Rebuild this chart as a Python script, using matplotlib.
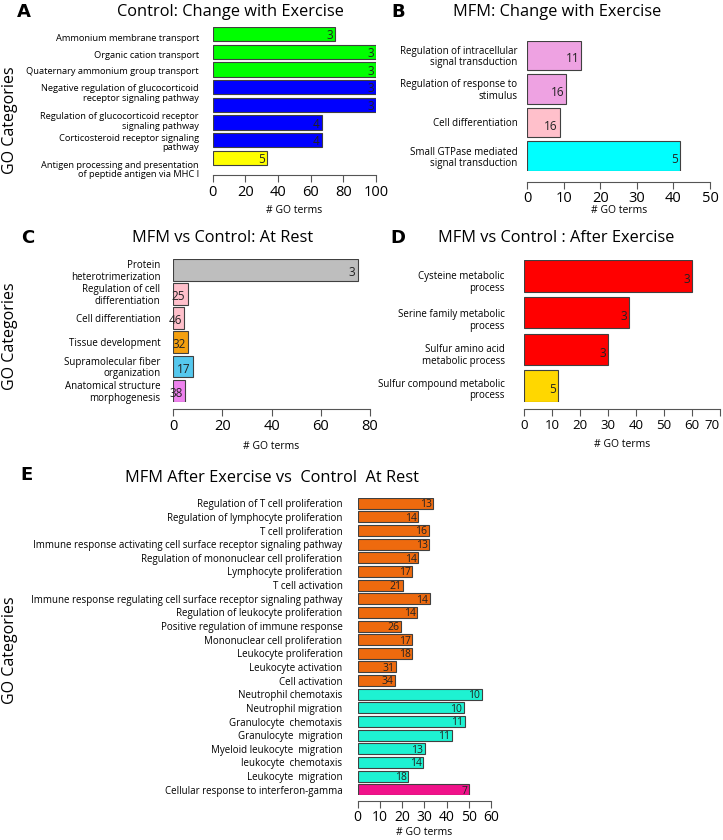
import numpy as np
import matplotlib
matplotlib.use("Agg")
import matplotlib.pyplot as plt

plt.rcParams['font.family'] = ['Open Sans', 'DejaVu Sans']

W, H = 723, 840

# ---- data ----
a_labels = ['Ammonium membrane transport', 'Organic cation transport',
            'Quaternary ammonium group transport',
            'Negative regulation of glucocorticoid\nreceptor signaling pathway',
            'Regulation of glucocorticoid receptor\nsignaling pathway',
            'Corticosteroid receptor signaling\npathway',
            'Antigen processing and presentation\nof peptide antigen via MHC I']
a_values = [75, 100, 100, 100, 100, 66.7, 66.7, 33.3]
a_counts = [3, 3, 3, 3, 3, 4, 4, 5]
a_colors = ['#00ff00'] * 3 + ['#0000ff'] * 4 + ['#ffff00']

b_labels = ['Regulation of intracellular\nsignal transduction',
            'Regulation of response to\nstimulus', 'Cell differentiation',
            'Small GTPase mediated\nsignal transduction']
b_values = [14.8, 10.7, 9.0, 41.8]
b_counts = [11, 16, 16, 5]
b_colors = ['#eea2e2', '#eea2e2', '#ffc0cb', '#00ffff']

c_labels = ['Protein\nheterotrimerization', 'Regulation of cell\ndifferentiation',
            'Cell differentiation', 'Tissue development',
            'Supramolecular fiber\norganization', 'Anatomical structure\nmorphogenesis']
c_values = [75, 6, 4.6, 6, 8, 5]
c_counts = [3, 25, 46, 32, 17, 38]
c_colors = ['#bebebe', '#ffc0cb', '#ffc0cb', '#f5a00f', '#55c8ee', '#ee82ee']

d_labels = ['Cysteine metabolic\nprocess', 'Serine family metabolic\nprocess',
            'Sulfur amino acid\nmetabolic process', 'Sulfur compound metabolic\nprocess']
d_values = [60, 37.5, 30, 12]
d_counts = [3, 3, 3, 5]
d_colors = ['#ff0000', '#ff0000', '#ff0000', '#ffd700']

e_labels = ['Regulation of T cell proliferation', 'Regulation of lymphocyte proliferation',
            'T cell proliferation',
            'Immune response activating cell surface receptor signaling pathway',
            'Regulation of mononuclear cell proliferation', 'Lymphocyte proliferation',
            'T cell activation',
            'Immune response regulating cell surface receptor signaling pathway',
            'Regulation of leukocyte proliferation', 'Positive regulation of immune response',
            'Mononuclear cell proliferation', 'Leukocyte proliferation',
            'Leukocyte activation', 'Cell activation', 'Neutrophil chemotaxis',
            'Neutrophil migration', 'Granulocyte  chemotaxis', 'Granulocyte  migration',
            'Myeloid leukocyte  migration', 'leukocyte  chemotaxis', 'Leukocyte  migration',
            'Cellular response to interferon-gamma']
e_values = [34.0, 27.3, 31.9, 32.3, 27.3, 24.5, 20.4, 32.4, 26.9, 19.3, 24.5, 24.6,
            17.4, 16.8, 55.8, 47.8, 48.2, 42.4, 30.2, 29.4, 22.7, 50.1]
e_counts = [13, 14, 16, 13, 14, 17, 21, 14, 14, 26, 17, 18, 31, 34,
            10, 10, 11, 11, 13, 14, 18, 7]
e_colors = ['#ee6a0e'] * 14 + ['#1ef2d2'] * 7 + ['#f0128a']

# label centres (pixels from top) where they do not sit on the bars
a_label_py = [38, 55, 72, 94, 123, 145, 173]
d_label_py = [281, 319, 354, 388]


def rect(x0, y0, x1, y1):
    return [x0 / W, 1 - y1 / H, (x1 - x0) / W, (y1 - y0) / H]


def panel(fig, box, axis_y, labels, values, counts, colors, xmax, xticks, hfrac,
          lab_fs=7, tick_fs=10.5, cnt_fs=8.5, pad=9, label_py=None, family=None):
    ax = fig.add_axes(rect(*box))
    n = len(values)
    pos = np.arange(n)[::-1]
    ax.barh(pos, values, height=hfrac, color=colors, edgecolor='#404040', linewidth=0.8)
    top = n - 1 + hfrac / 2
    ax.set_xlim(0, xmax)
    ax.set_ylim(-hfrac / 2, top)
    for p, v, c in zip(pos, values, counts):
        ax.text(v - xmax * 0.012, p - hfrac * 0.12, str(c), ha='right', va='center',
                fontsize=cnt_fs, color='#222222', family=family)
    if label_py is None:
        ticks = pos
    else:
        per_px = (n - 1 + hfrac) / (box[3] - box[1])
        ticks = [top - (py - box[1]) * per_px for py in label_py]
    ax.set_yticks(ticks)
    ax.set_yticklabels(labels, fontsize=lab_fs, linespacing=1.05, family=family)
    ax.tick_params(axis='y', length=0, pad=pad)
    for s in ['top', 'right', 'left']:
        ax.spines[s].set_visible(False)
    off = (axis_y - box[3]) * 0.72
    ax.spines['bottom'].set_position(('outward', off))
    ax.spines['bottom'].set_bounds(0, xmax)
    ax.spines['bottom'].set_color('#555555')
    ax.set_xticks(xticks)
    ax.tick_params(axis='x', labelsize=tick_fs, length=5, color='#555555', pad=2)
    return ax


fig = plt.figure(figsize=(W / 100, H / 100), dpi=100)

# A
axA = panel(fig, (212.7, 27, 376, 169), 175, a_labels, a_values, a_counts, a_colors,
            100, [0, 20, 40, 60, 80, 100], 0.82, lab_fs=6.7, pad=10, label_py=a_label_py)
axA.set_xlabel('# GO terms', fontsize=7.5, labelpad=4)

# B
axB = panel(fig, (527.3, 40.7, 710, 170.7), 181.7, b_labels, b_values, b_counts, b_colors,
            50, [0, 10, 20, 30, 40, 50], 0.87, pad=7)
axB.set_xlabel('# GO terms', fontsize=7.5, labelpad=-1)

# C
axC = panel(fig, (173, 258.7, 370, 401.7), 409, c_labels, c_values, c_counts, c_colors,
            80, [0, 20, 40, 60, 80], 0.9, pad=9)
axC.set_xlabel('# GO terms', fontsize=7.5, labelpad=5)

# D
axD = panel(fig, (524.3, 260.3, 720, 401.7), 409, d_labels, d_values, d_counts, d_colors,
            70, [0, 10, 20, 30, 40, 50, 60, 70], 0.86, tick_fs=9.5, pad=14,
            label_py=d_label_py)
axD.set_xlabel('# GO terms', fontsize=7.5, labelpad=5)
axD.get_xticklabels()[-1].set_horizontalalignment('right')

# E
axE = panel(fig, (357.7, 497.7, 491, 795.3), 800.7, e_labels, e_values, e_counts, e_colors,
            60, [0, 10, 20, 30, 40, 50, 60], 0.81, lab_fs=7, tick_fs=10, cnt_fs=7.5,
            pad=11, family=['Liberation Sans Narrow', 'Open Sans'])
axE.set_xlabel('# GO terms', fontsize=7.5, labelpad=1)

# titles, letters, y labels
titles = [(230, 12, 'Control: Change with Exercise'),
          (557, 12, 'MFM: Change with Exercise'),
          (223, 238, 'MFM vs Control: At Rest'),
          (556, 238, 'MFM vs Control : After Exercise'),
          (272, 478, 'MFM After Exercise vs  Control  At Rest')]
for x, y, t in titles:
    fig.text(x / W, 1 - y / H, t, fontsize=11.8, ha='center', va='center')

for x, y, t in [(24, 12, 'A'), (398, 12, 'B'), (28, 238, 'C'), (398, 238, 'D'), (27, 475, 'E')]:
    fig.text(x / W, 1 - y / H, t, fontsize=13, fontweight='bold', family='DejaVu Sans',
             ha='center', va='center')

for y in [120, 336, 650]:
    fig.text(10 / W, 1 - y / H, 'GO Categories', fontsize=11.5, rotation=90,
             ha='center', va='center')

plt.savefig('out.png', dpi=100)
